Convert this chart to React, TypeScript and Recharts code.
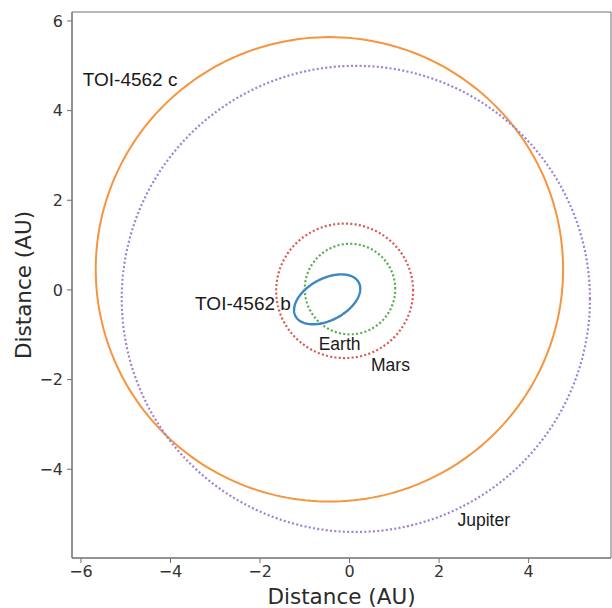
import { ScatterChart, Scatter, XAxis, YAxis, ReferenceArea } from 'recharts';

// Orbit parameters (AU)
const orbitNames = ['TOI-4562 c', 'Jupiter', 'Mars', 'Earth', 'TOI-4562 b'];
const centerX = [-0.45, 0.14, -0.11, 0.01, -0.5];
const centerY = [0.46, -0.2, -0.02, 0.02, -0.21];
const semiX = [5.22, 5.23, 1.53, 1.01, 0.8];
const semiY = [5.18, 5.2, 1.5, 1.01, 0.465];
const tiltDeg = [0, 0, 0, 0, 28];
const orbitColors = ['#f5953f', '#9f80d6', '#dc5654', '#50ad50', '#3d88c0'];
const orbitDotted = [false, true, true, true, false];
const orbitWidth = [2, 2.2, 2.2, 2.2, 2.4];

// Text labels: name, left x, baseline y (AU)
const labelTexts = ['TOI-4562 c', 'TOI-4562 b', 'Earth', 'Mars', 'Jupiter'];
const labelX = [-5.96, -3.45, -0.69, 0.48, 2.41];
const labelY = [4.54, -0.45, -1.34, -1.8, -5.26];
const labelSize = [19, 19, 17.5, 17.5, 17.5];

const xTicks = [-6, -4, -2, 0, 2, 4];
const yTicks = [-4, -2, 0, 2, 4, 6];
const xDomain = [-6.2, 5.84];
const yDomain = [-5.98, 6.2];

const STEPS = 240;
const orbitData = orbitNames.map((_, i) => {
  const th = (tiltDeg[i] * Math.PI) / 180;
  const pts = [];
  for (let k = 0; k <= STEPS; k++) {
    const t = (2 * Math.PI * k) / STEPS;
    const ex = semiX[i] * Math.cos(t);
    const ey = semiY[i] * Math.sin(t);
    pts.push({
      x: centerX[i] + ex * Math.cos(th) - ey * Math.sin(th),
      y: centerY[i] + ex * Math.sin(th) + ey * Math.cos(th),
    });
  }
  return pts;
});

const labelData = labelTexts.map((text, i) => ({ x: labelX[i], y: labelY[i], text, size: labelSize[i] }));

const tickStyle = { fontFamily: 'DejaVu Sans', fontSize: 16, fill: '#333' };
const FRAME = '#707070';

const NoDot = () => <g />;

const LabelText = (props: any) => (
  <text
    x={props.cx}
    y={props.cy}
    fontFamily="Liberation Sans, Arial, sans-serif"
    fontSize={props.payload.size}
    fill="#1a1a1a"
  >
    {props.payload.text}
  </text>
);

export default function App() {
  return (
    <div style={{ position: 'absolute', left: 0, top: 0, background: '#fff' }}>
      <ScatterChart width={612} height={608} margin={{ top: 12, right: 1, bottom: 0, left: 0 }}>
        <XAxis
          type="number"
          dataKey="x"
          domain={xDomain}
          ticks={xTicks}
          allowDataOverflow
          height={50}
          tick={tickStyle}
          tickSize={5}
          tickMargin={3}
          stroke={FRAME}
          tickFormatter={(v: number) => String(v).replace('-', '\u2212')}
          label={{
            content: ({ viewBox }: any) => (
              <text
                x={viewBox.x + viewBox.width / 2}
                y={viewBox.y + viewBox.height - 4}
                textAnchor="middle"
                fontFamily="DejaVu Sans"
                fontSize={21.5}
                fill="#2a2a2a"
              >
                Distance (AU)
              </text>
            ),
          }}
        />
        <YAxis
          type="number"
          dataKey="y"
          domain={yDomain}
          ticks={yTicks}
          allowDataOverflow
          width={72}
          tick={tickStyle}
          tickSize={5}
          tickMargin={4}
          stroke={FRAME}
          tickFormatter={(v: number) => String(v).replace('-', '\u2212')}
          label={{
            content: ({ viewBox }: any) => {
              const cx = 30.5;
              const cy = viewBox.y + viewBox.height / 2;
              return (
                <text
                  x={cx}
                  y={cy}
                  transform={`rotate(-90, ${cx}, ${cy})`}
                  textAnchor="middle"
                  fontFamily="DejaVu Sans"
                  fontSize={21.5}
                  fill="#2a2a2a"
                >
                  Distance (AU)
                </text>
              );
            },
          }}
        />
        <ReferenceArea
          x1={xDomain[0]}
          x2={xDomain[1]}
          y1={yDomain[0]}
          y2={yDomain[1]}
          fill="none"
          fillOpacity={0}
          stroke={FRAME}
          strokeWidth={1}
        />
        {orbitData.map((pts, i) => (
          <Scatter
            key={orbitNames[i]}
            name={orbitNames[i]}
            data={pts}
            isAnimationActive={false}
            shape={NoDot}
            lineType="joint"
            line={{
              stroke: orbitColors[i],
              strokeWidth: orbitWidth[i],
              strokeDasharray: orbitDotted[i] ? '2 2.3' : undefined,
              fill: 'none',
            }}
          />
        ))}
        <Scatter data={labelData} isAnimationActive={false} shape={LabelText} />
      </ScatterChart>
    </div>
  );
}
